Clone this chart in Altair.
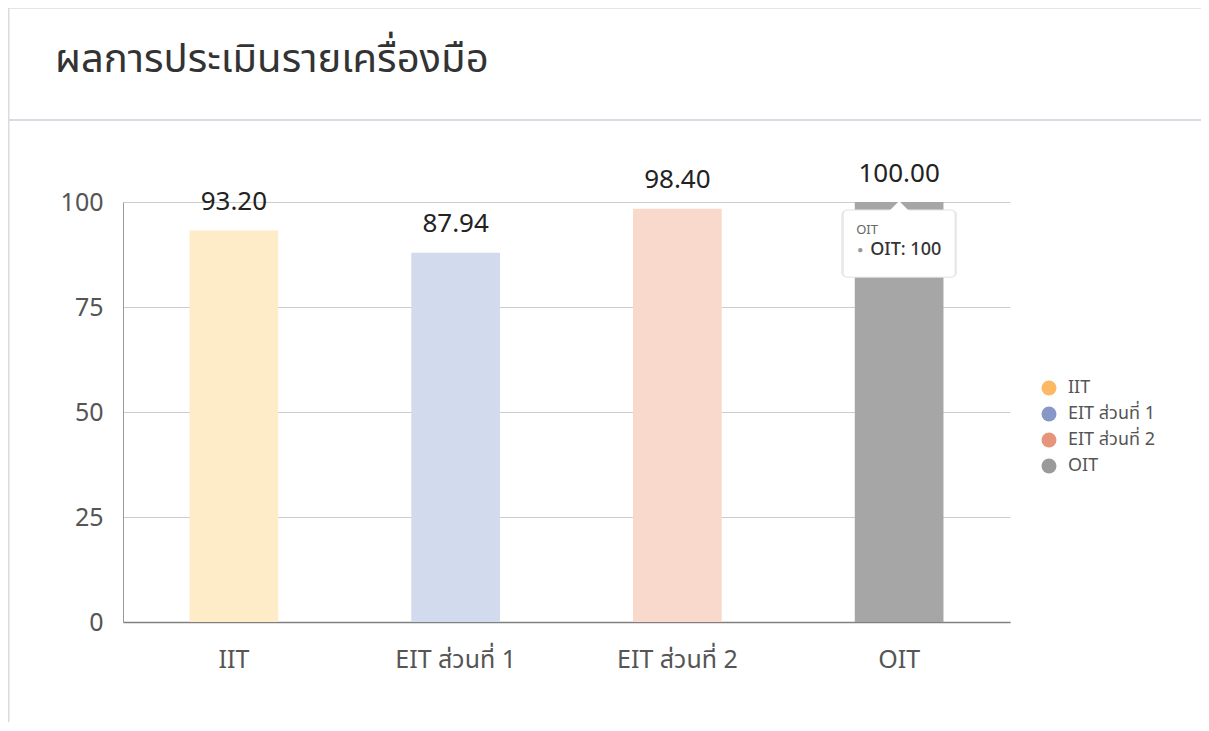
import altair as alt
import pandas as pd

categories = ["IIT", "EIT ส่วนที่ 1", "EIT ส่วนที่ 2", "OIT"]
scores = [93.20, 87.94, 98.40, 100.00]
bar_colors = ["#FEEBC8", "#D2DAEE", "#F9D9CB", "#A6A6A6"]
legend_colors = ["#FDB863", "#8798C8", "#E6957B", "#9A9A9A"]
title_text = "ผลการประเมินรายเครื่องมือ"
tip_title = "OIT"
tip_label = "OIT: 100"

FONT = "Noto Sans Thai, Noto Sans, sans-serif"

df = pd.DataFrame({
    "cat": categories,
    "score": scores,
    "barcolor": bar_colors,
    "label": [f"{v:.2f}" for v in scores],
})

W, H = 887, 420
PL, PT, PR, PB = 115, 194, 191, 100

xaxis = alt.Axis(title=None, labelAngle=0, labelAlign="center", labelBaseline="top",
                 labelFontSize=25, labelColor="#555", labelPadding=25, ticks=False,
                 domainColor="#808080", domainWidth=1.5, grid=False, labelFont=FONT)
xenc = alt.X("cat:N", sort=categories,
             scale=alt.Scale(paddingInner=0.6, paddingOuter=0.3), axis=xaxis)
yscale = alt.Scale(domain=[0, 100])

base = alt.Chart(df)

bars = base.mark_bar().encode(
    x=xenc,
    y=alt.Y("score:Q", scale=yscale,
            axis=alt.Axis(title=None, values=[0, 25, 50, 75, 100], labelFontSize=25,
                          labelColor="#555", labelPadding=20, ticks=False,
                          domainColor="#999", gridColor="#cccccc", labelFont=FONT)),
    fill=alt.Fill("barcolor:N", scale=None),
)

legend_layer = base.mark_circle(size=10, opacity=0).encode(
    x=alt.X("cat:N", sort=categories, axis=xaxis),
    y=alt.Y("score:Q", scale=yscale),
    color=alt.Color("cat:N", sort=categories,
                    scale=alt.Scale(domain=categories, range=legend_colors),
                    legend=alt.Legend(title=None, orient="none", legendX=917, legendY=177,
                                      symbolType="circle", symbolSize=225, symbolOpacity=1,
                                      labelFontSize=18, labelColor="#555", labelFont=FONT,
                                      rowPadding=8, labelOffset=10, padding=0)),
)

labels = base.mark_text(baseline="alphabetic", dy=-20.5, fontSize=26, color="#222", font=FONT).encode(
    x=alt.X("cat:N", sort=categories, axis=xaxis),
    y=alt.Y("score:Q", scale=yscale),
    text="label:N",
)

tip_df = pd.DataFrame({"cat": ["OIT"], "top": [98.1], "bottom": [82.1], "arrow": [97.85],
                       "t1": [93.3], "t2": [88.6], "title": [tip_title], "lab": [tip_label]})
tbase = alt.Chart(tip_df)
tx = alt.X("cat:N", sort=categories, axis=xaxis)
tip_shadow = tbase.mark_bar(size=116, cornerRadius=5, fill="#000", opacity=0.08).encode(
    x=tx, y=alt.Y("top:Q", scale=yscale), y2="bottom:Q")
tip_box = tbase.mark_bar(size=112, cornerRadius=4, fill="white", stroke="#e2e2e2", strokeWidth=1).encode(
    x=tx, y=alt.Y("top:Q", scale=yscale), y2="bottom:Q")
tip_arrow = tbase.mark_point(shape="M -1 0 L 0 -1 L 1 0 Z", size=400, filled=True,
                             fill="white", opacity=1, strokeWidth=0).encode(
    x=tx, y=alt.Y("arrow:Q", scale=yscale))
tip_t1 = tbase.mark_text(align="left", baseline="middle", dx=-43, fontSize=13, color="#666", font=FONT).encode(
    x=tx, y=alt.Y("t1:Q", scale=yscale), text="title:N")
tip_dot = tbase.mark_text(align="left", baseline="middle", dx=-42, fontSize=10, color="#999", font=FONT).encode(
    x=tx, y=alt.Y("t2:Q", scale=yscale), text=alt.value("●"))
tip_t2 = tbase.mark_text(align="left", baseline="middle", dx=-29, fontSize=18, fontWeight=500,
                         color="#333", font=FONT).encode(
    x=tx, y=alt.Y("t2:Q", scale=yscale), text="lab:N")

deco = alt.Chart(pd.DataFrame({"d": [0], "t": [title_text]}))
title_mark = deco.mark_text(align="left", baseline="middle", fontSize=40, color="#333", font=FONT).encode(
    x=alt.value(-68), y=alt.value(-142), text="t:N")
sep = deco.mark_rule(color="#d9dbe0", strokeWidth=2).encode(
    x=alt.value(-PL), x2=alt.value(W + PR), y=alt.value(-82))
topb = deco.mark_rule(color="#e3e5ea", strokeWidth=1).encode(
    x=alt.value(-PL), x2=alt.value(W + PR), y=alt.value(-PT + 0.5))
leftb = deco.mark_rule(color="#d9dbe0", strokeWidth=1.5).encode(
    x=alt.value(-PL + 0.75), y=alt.value(-PT), y2=alt.value(H + PB))

chart = alt.layer(
    bars, legend_layer, labels, tip_shadow, tip_box, tip_arrow, tip_t1, tip_dot, tip_t2,
    title_mark, sep, topb, leftb,
).properties(
    width=W, height=H,
    padding={"left": PL, "top": PT, "right": PR, "bottom": PB},
    autosize=alt.AutoSizeParams(type="none"),
    background="white",
).configure_view(stroke=None)

chart.save("out.html", embed_options={"renderer": "svg", "actions": False})
